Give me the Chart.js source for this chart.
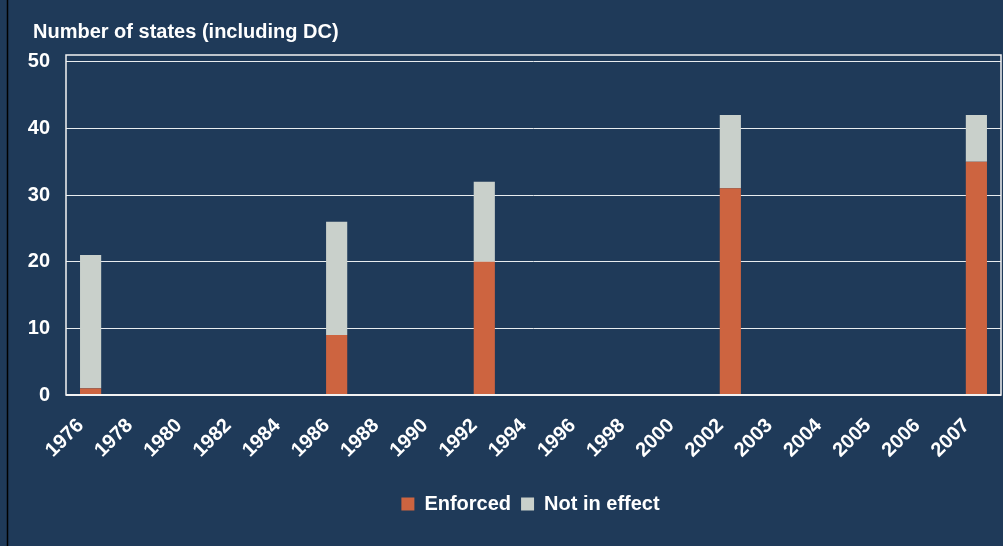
<!DOCTYPE html>
<html>
<head>
<meta charset="utf-8">
<script src="https://cdn.jsdelivr.net/npm/chart.js@4"></script>
<style>
  html, body { margin: 0; padding: 0; background: #1f3a59; }
  #wrap { width: 1003px; height: 546px; position: relative; }
</style>
</head>
<body>
<div id="wrap"><canvas id="myChart" width="1003" height="546"></canvas></div>
<script>
// 연도별 데이터
var years = ["1976", "1978", "1980", "1982", "1984", "1986", "1988", "1990", "1992", "1994",
  "1996", "1998", "2000", "2002", "2003", "2004", "2005", "2006", "2007"];
var enforced = [1, null, null, null, null, 9, null, null, 20, null,
  null, null, null, 31, null, null, null, null, 35];
var notInEffect = [20, null, null, null, null, 17, null, null, 12, null,
  null, null, null, 11, null, null, null, null, 7];
var yTicks = [0, 10, 20, 30, 40, 50];

var bg = '#1f3a59';
var fontBold = { family: 'Liberation Sans, Arial, sans-serif', size: 20, weight: 'bold' };

// 배경 + 테두리, 제목/범례 위치 보정
var framePlugin = {
  id: 'frame',
  afterLayout: function (chart) {
    chart.titleBlock.left += 33;
    chart.titleBlock.right += 33;
    chart.legend.left += 30;
    chart.legend.right += 30;
  },
  beforeDraw: function (chart) {
    var c = chart.ctx;
    c.save();
    c.fillStyle = bg;
    c.fillRect(0, 0, chart.width, chart.height);
    c.strokeStyle = '#000';
    c.lineWidth = 1.5;
    c.beginPath();
    c.moveTo(7.5, 0);
    c.lineTo(7.5, chart.height);
    c.stroke();
    c.restore();
  },
  afterDatasetsDraw: function (chart) {
    var a = chart.chartArea;
    var c = chart.ctx;
    c.save();
    c.strokeStyle = '#f2f2f2';
    c.lineWidth = 1.5;
    c.strokeRect(a.left, a.top, a.right - a.left, a.bottom - a.top);
    c.lineWidth = 2;
    c.beginPath();
    c.moveTo(a.left, a.bottom);
    c.lineTo(a.right, a.bottom);
    c.stroke();
    c.restore();
  }
};

var ctx = document.getElementById('myChart').getContext('2d');
var myChart = new Chart(ctx, {
  type: 'bar',
  data: {
    labels: years,
    datasets: [{
      label: 'Enforced',
      data: enforced,
      backgroundColor: '#cd6440'
    }, {
      label: 'Not in effect',
      data: notInEffect,
      backgroundColor: '#c9d0cb'
    }]
  },
  options: {
    responsive: false,
    animation: false,
    events: [],
    layout: { padding: { left: 0, right: 2, top: 0, bottom: 22 } },
    datasets: {
      bar: { categoryPercentage: 1, barPercentage: 0.43 }
    },
    scales: {
      x: {
        stacked: true,
        grid: { display: false, drawTicks: false },
        border: { display: false },
        ticks: {
          color: '#ffffff',
          font: fontBold,
          minRotation: 45,
          maxRotation: 45,
          autoSkip: false,
          padding: 19,
          labelOffset: -10
        },
        afterFit: function (s) {
          s.height = 89;
          s.paddingLeft = 0;
          s.paddingRight = 0;
        }
      },
      y: {
        stacked: true,
        min: 0,
        max: 51,
        afterBuildTicks: function (s) {
          s.ticks = yTicks.map(function (v) { return { value: v }; });
        },
        grid: { color: '#e8ecef', lineWidth: 1, drawTicks: false },
        border: { display: false },
        ticks: {
          color: '#ffffff',
          font: fontBold,
          padding: 16
        },
        afterFit: function (s) { s.width = 66; }
      }
    },
    plugins: {
      title: {
        display: true,
        text: 'Number of states (including DC)',
        align: 'start',
        color: '#ffffff',
        font: fontBold,
        padding: { top: 20, bottom: 11 }
      },
      legend: {
        position: 'bottom',
        labels: {
          color: '#ffffff',
          font: fontBold,
          boxWidth: 13,
          boxHeight: 13,
          padding: 10
        }
      },
      tooltip: { enabled: false }
    }
  },
  plugins: [framePlugin]
});
</script>
</body>
</html>
